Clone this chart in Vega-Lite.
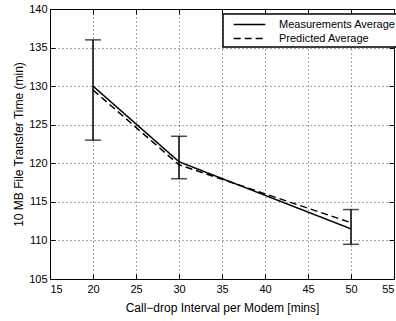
{
  "$schema": "https://vega.github.io/schema/vega-lite/v6.json",
  "width": 344,
  "height": 270,
  "autosize": {"type": "none"},
  "padding": {"left": 50, "top": 9, "right": 2, "bottom": 42},
  "background": "white",
  "config": {
    "font": "Liberation Sans",
    "view": {"stroke": "black", "strokeWidth": 1},
    "axis": {
      "domain": false,
      "tickColor": "black",
      "tickSize": -5,
      "labelColor": "black",
      "labelFontSize": 11,
      "titleFontSize": 12,
      "titleColor": "black",
      "titleFontWeight": "normal",
      "gridColor": "#000",
      "gridDash": [1, 3],
      "gridOpacity": 0.7
    },
    "legend": {
      "orient": "none",
      "legendX": 173,
      "legendY": 5,
      "strokeColor": "black",
      "strokeWidth": 1.5,
      "fillColor": "white",
      "padding": 3,
      "symbolType": "M-2.5,0H2.5",
      "symbolSize": 160,
      "symbolOffset": 16,
      "symbolStrokeWidth": 1.5,
      "symbolStrokeColor": "black",
      "symbolFillColor": "transparent",
      "labelFontSize": 11,
      "labelColor": "black",
      "rowPadding": 1,
      "labelOffset": 22
    }
  },
  "datasets": {
    "lines": [
      {"series": "Measurements Average", "interval": 20, "time": 130},
      {"series": "Measurements Average", "interval": 30, "time": 120.2},
      {"series": "Measurements Average", "interval": 50, "time": 111.5},
      {"series": "Predicted Average", "interval": 20, "time": 129.5},
      {"series": "Predicted Average", "interval": 30, "time": 119.8},
      {"series": "Predicted Average", "interval": 50, "time": 112.3}
    ],
    "errors": [
      {"interval": 20, "lo": 123, "hi": 136},
      {"interval": 30, "lo": 118, "hi": 123.5},
      {"interval": 50, "lo": 109.5, "hi": 114}
    ]
  },
  "layer": [
    {
      "data": {"name": "lines"},
      "mark": {"type": "line", "color": "black", "strokeWidth": 1.5},
      "encoding": {
        "x": {
          "field": "interval", "type": "quantitative",
          "scale": {"domain": [15, 55], "nice": false},
          "axis": {"values": [15, 20, 25, 30, 35, 40, 45, 50, 55], "title": "Call\u2212drop Interval per Modem [mins]", "grid": true, "labelPadding": 9, "titlePadding": 8}
        },
        "y": {
          "field": "time", "type": "quantitative",
          "scale": {"domain": [105, 140], "nice": false, "zero": false},
          "axis": {"values": [105, 110, 115, 120, 125, 130, 135, 140], "title": "10 MB File Transfer Time (min)", "grid": true, "labelPadding": 8, "titlePadding": 3}
        },
        "strokeDash": {
          "field": "series", "type": "nominal",
          "scale": {"domain": ["Measurements Average", "Predicted Average"], "range": [[1, 0], [7, 4]]},
          "legend": {"title": null}
        }
      }
    },
    {
      "data": {"name": "errors"},
      "mark": {"type": "rule", "color": "black", "strokeWidth": 1.5},
      "encoding": {
        "x": {"field": "interval", "type": "quantitative", "axis": {"orient": "top", "labels": false, "title": null, "grid": false, "values": [15, 20, 25, 30, 35, 40, 45, 50, 55]}},
        "y": {"field": "lo", "type": "quantitative", "axis": {"orient": "right", "labels": false, "title": null, "grid": false, "values": [105, 110, 115, 120, 125, 130, 135, 140]}},
        "y2": {"field": "hi"}
      }
    },
    {
      "data": {"name": "errors"},
      "mark": {"type": "tick", "color": "black", "orient": "horizontal", "size": 16, "thickness": 1.5},
      "encoding": {
        "x": {"field": "interval", "type": "quantitative", "axis": null},
        "y": {"field": "lo", "type": "quantitative", "axis": null}
      }
    },
    {
      "data": {"name": "errors"},
      "mark": {"type": "tick", "color": "black", "orient": "horizontal", "size": 16, "thickness": 1.5},
      "encoding": {
        "x": {"field": "interval", "type": "quantitative", "axis": null},
        "y": {"field": "hi", "type": "quantitative", "axis": null}
      }
    }
  ],
  "resolve": {"axis": {"x": "independent", "y": "independent"}}
}
